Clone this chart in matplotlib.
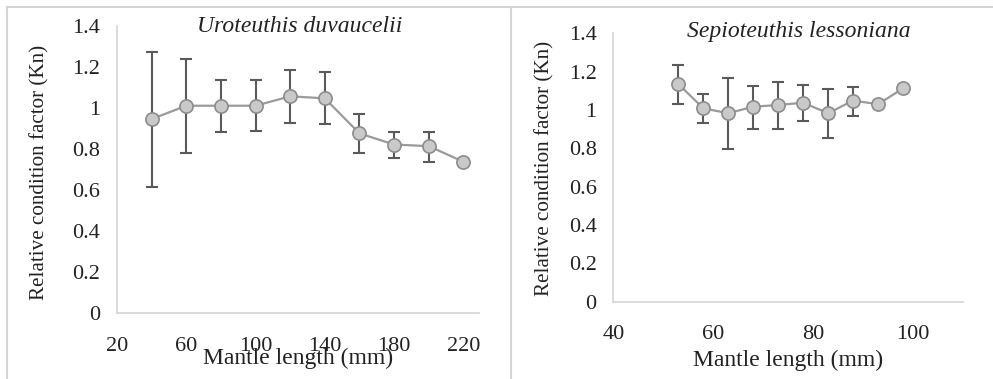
import matplotlib
matplotlib.use("Agg")
import matplotlib.pyplot as plt
from matplotlib.lines import Line2D

plt.rcParams['font.family'] = ['Liberation Serif', 'DejaVu Serif']

# Left panel: Uroteuthis duvaucelii
u_x = [40, 60, 80, 100, 120, 140, 160, 180, 200, 220]
u_kn = [0.945, 1.01, 1.01, 1.01, 1.056, 1.046, 0.875, 0.821, 0.813, 0.737]
u_hi = [1.273, 1.238, 1.135, 1.135, 1.184, 1.173, 0.968, 0.883, 0.883, 0.737]
u_lo = [0.612, 0.780, 0.880, 0.888, 0.924, 0.919, 0.780, 0.753, 0.737, 0.737]

# Right panel: Sepioteuthis lessoniana
s_x = [53, 58, 63, 68, 73, 78, 83, 88, 93, 98]
s_kn = [1.136, 1.009, 0.983, 1.017, 1.026, 1.038, 0.983, 1.049, 1.030, 1.113]
s_hi = [1.235, 1.083, 1.165, 1.127, 1.148, 1.130, 1.108, 1.122, 1.030, 1.113]
s_lo = [1.031, 0.931, 0.797, 0.899, 0.903, 0.943, 0.856, 0.969, 1.030, 1.113]

y_ticks = [0, 0.2, 0.4, 0.6, 0.8, 1, 1.2, 1.4]
y_ticklabels = ["0", "0.2", "0.4", "0.6", "0.8", "1", "1.2", "1.4"]
u_xticks = [20, 60, 100, 140, 180, 220]
s_xticks = [40, 60, 80, 100]

W, H = 993, 379
fig = plt.figure(figsize=(W / 100, H / 100), dpi=100)

def fx(px):
    return px / W

def fy(py):
    return 1 - py / H

ax1 = fig.add_axes([fx(117), fy(313), fx(479) - fx(117), fy(25.7) - fy(313)])
ax2 = fig.add_axes([fx(613.3), fy(301.7), fx(963) - fx(613.3), fy(33.3) - fy(301.7)])

def draw(ax, x, kn, hi, lo, xlim, xticks):
    idx = [i for i in range(len(x)) if hi[i] > lo[i]]
    ex = [x[i] for i in idx]
    ey = [kn[i] for i in idx]
    lower = [kn[i] - lo[i] for i in idx]
    upper = [hi[i] - kn[i] for i in idx]
    ax.errorbar(ex, ey, yerr=[lower, upper], fmt='none', ecolor='#5a5a5a',
                elinewidth=1.5, capsize=4, capthick=1.5, zorder=2)
    ax.plot(x, kn, color='#9a9a9a', lw=1.6, marker='o', ms=9.5,
            mfc='#c9c9c9', mec='#8c8c8c', mew=1.2, zorder=3)
    ax.set_xlim(*xlim)
    ax.set_ylim(0, 1.4)
    ax.set_yticks(y_ticks)
    ax.set_yticklabels(y_ticklabels)
    ax.set_xticks(xticks)
    ax.set_xticklabels([str(t) for t in xticks])
    for s in ['top', 'right']:
        ax.spines[s].set_visible(False)
    for s in ['left', 'bottom']:
        ax.spines[s].set_color('#d9d9d9')
        ax.spines[s].set_linewidth(1.3)
    ax.tick_params(axis='both', length=0, labelsize=16, colors='#222222')
    ax.tick_params(axis='y', pad=12)
    ax.tick_params(axis='x', pad=17)
    ax.set_facecolor('none')

draw(ax1, u_x, u_kn, u_hi, u_lo, (20, 229), u_xticks)
draw(ax2, s_x, s_kn, s_hi, s_lo, (40, 110), s_xticks)

# titles
fig.text(fx(300), fy(26), "Uroteuthis duvaucelii", ha='center', va='center',
         fontsize=17, style='italic', color='#222222')
fig.text(fx(799), fy(32), "Sepioteuthis lessoniana", ha='center', va='center',
         fontsize=17, style='italic', color='#222222')

# y labels
fig.text(fx(40), fy(172), "Relative condition factor (Kn)", ha='center', va='center',
         rotation=90, fontsize=15.2, color='#222222')
fig.text(fx(545), fy(168), "Relative condition factor (Kn)", ha='center', va='center',
         rotation=90, fontsize=15.2, color='#222222')

# x labels
fig.text(fx(298), fy(358), "Mantle length (mm)", ha='center', va='center',
         fontsize=17, color='#222222')
fig.text(fx(788), fy(360), "Mantle length (mm)", ha='center', va='center',
         fontsize=17, color='#222222')

# panel frame lines
lc = '#d4d4d4'
fig.add_artist(Line2D([fx(7), 1], [fy(7), fy(7)], color=lc, lw=1.5))
fig.add_artist(Line2D([fx(7), fx(7)], [0, fy(7)], color=lc, lw=1.5))
fig.add_artist(Line2D([fx(510.7), fx(510.7)], [0, fy(7)], color=lc, lw=1.5))

fig.savefig("out.png", dpi=100)
